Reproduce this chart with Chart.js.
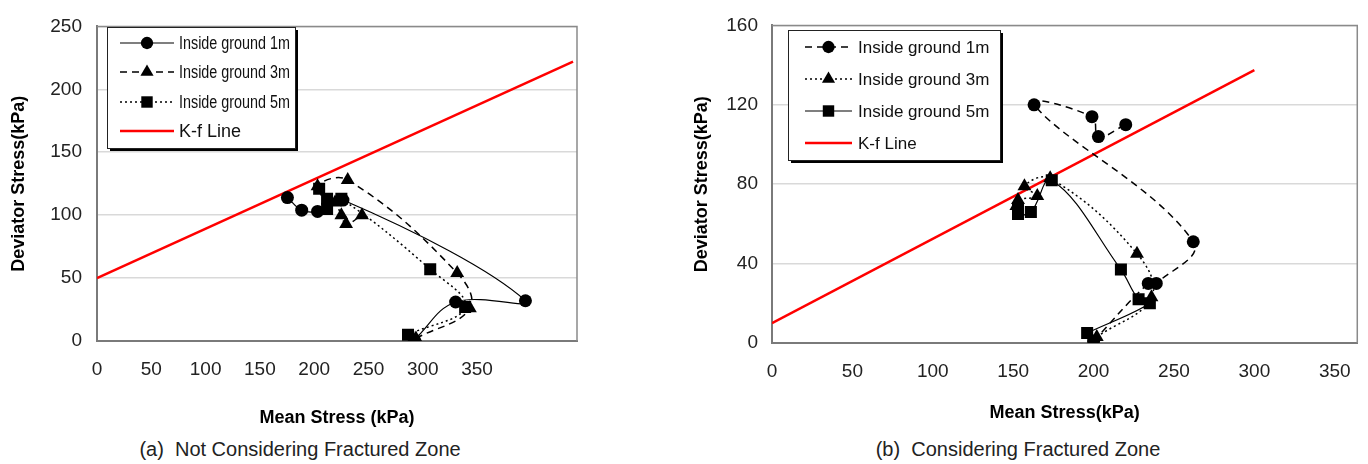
<!DOCTYPE html>
<html><head><meta charset="utf-8">
<script src="https://cdn.jsdelivr.net/npm/chart.js@4.4.1/dist/chart.umd.min.js"></script>
<style>
body{margin:0;background:#fff;width:1368px;height:464px;overflow:hidden;position:relative;font-family:"Liberation Sans",Arial,sans-serif}
#ca{position:absolute;left:0;top:0}
#cb{position:absolute;left:680px;top:0}
.cap{position:absolute;top:436px;font-size:20px;line-height:26px;color:#222;white-space:pre;transform:translateX(-50%)}
</style></head><body>
<canvas id="ca" width="600" height="430"></canvas>
<canvas id="cb" width="688" height="425"></canvas>
<div class="cap" style="left:300px">(a)  Not Considering Fractured Zone</div>
<div class="cap" style="left:1018px">(b)  Considering Fractured Zone</div>
<script>
// ---------- data ----------
const seriesLabels = ['Inside ground 1m', 'Inside ground 3m', 'Inside ground 5m', 'K-f Line'];

// (a) Not considering fractured zone
const meanA1 = [200, 226, 270, 155, 139, 129, 120];
const devA1  = [1, 31, 32, 112, 103, 104, 114];
const meanA3 = [201, 235, 227, 158, 139, 150, 154, 157, 167];
const devA3  = [2, 26, 54, 128, 123, 110, 100, 93, 100];
const meanA5 = [196, 232, 210, 154, 145, 140, 145];
const devA5  = [5, 27, 57, 113, 113, 121, 105];
const kfMeanA = [0, 300];
const kfDevA  = [50, 222];

// (b) Considering fractured zone
const meanB1 = [200, 234, 239, 262, 163, 199, 203, 220];
const devB1  = [1, 30, 30, 51, 120, 114, 104, 110];
const meanB3 = [202, 236, 227, 173, 157, 165, 153, 152];
const devB3  = [3, 23, 45, 83, 79, 74, 72, 69];
const meanB5 = [196, 235, 228, 217, 174, 161, 153, 153];
const devB5  = [5, 20, 22, 37, 82, 66, 65, 68];
const kfMeanB = [0, 300];
const kfDevB  = [10, 137.5];

// tick labels
const xTicks = [0, 50, 100, 150, 200, 250, 300, 350];
const yTicksA = [0, 50, 100, 150, 200, 250];
const yTicksB = [0, 40, 80, 120, 160];

// ---------- helpers ----------
const pts = (xs, ys) => xs.map((x, i) => ({x, y: ys[i]}));
const FONT = '"Liberation Sans", Arial, sans-serif';

function series(label, xs, ys, style, dash, radius) {
  return {
    label, data: pts(xs, ys), showLine: true, tension: 0.4,
    borderColor: '#000', borderWidth: dash.length ? 1.5 : 1.2, borderDash: dash,
    pointStyle: style, pointRadius: radius, pointHoverRadius: radius,
    pointBackgroundColor: '#000', pointBorderColor: '#000', pointBorderWidth: 0
  };
}
function kfLine(xs, ys) {
  return {label: seriesLabels[3], data: pts(xs, ys), showLine: true, tension: 0,
    borderColor: '#ff0000', borderWidth: 2.5, borderDash: [], pointRadius: 0, pointHoverRadius: 0};
}

const frame = {
  id: 'frame',
  beforeDatasetsDraw(chart) {
    const {ctx, chartArea: a} = chart;
    ctx.save();
    ctx.strokeStyle = '#8a8a8a'; ctx.lineWidth = 1.5;
    ctx.beginPath();
    ctx.moveTo(a.left, a.top); ctx.lineTo(a.right, a.top); ctx.lineTo(a.right, a.bottom);
    ctx.stroke();
    ctx.restore();
  }
};

const boxLegend = {
  id: 'boxLegend',
  afterDatasetsDraw(chart, args, o) {
    const ctx = chart.ctx;
    ctx.save();
    ctx.fillStyle = '#000';
    ctx.fillRect(o.x + 3, o.y + 3, o.w, o.h);
    ctx.fillStyle = '#fff';
    ctx.fillRect(o.x, o.y, o.w, o.h);
    ctx.strokeStyle = '#222'; ctx.lineWidth = 1;
    ctx.strokeRect(o.x + 0.5, o.y + 0.5, o.w, o.h);
    chart.data.datasets.forEach((ds, i) => {
      const y = o.rows[i];
      ctx.save();
      ctx.strokeStyle = ds.borderColor; ctx.lineWidth = ds.borderWidth;
      ctx.setLineDash(ds.borderDash || []);
      ctx.beginPath(); ctx.moveTo(o.x0, y); ctx.lineTo(o.x1, y); ctx.stroke();
      ctx.setLineDash([]);
      if (ds.pointRadius > 0) {
        ctx.fillStyle = '#000'; ctx.strokeStyle = '#000';
        Chart.helpers.drawPoint(ctx, {pointStyle: ds.pointStyle, radius: ds.pointRadius * 0.95, rotation: 0, borderWidth: 0}, (o.x0 + o.x1) / 2, y);
      }
      ctx.restore();
      ctx.fillStyle = '#111'; ctx.font = o.font; ctx.textBaseline = 'middle'; ctx.textAlign = 'left';
      ctx.fillText(ds.label, o.tx, y + 1, o.maxW);
    });
    ctx.restore();
  }
};

function yAxis(max, step, ticks, width, titlePad, tickPad) {
  return {
    type: 'linear', position: 'left', min: 0, max: max,
    afterFit(s) { s.width = width; },
    afterBuildTicks(s) { s.ticks = ticks.map(v => ({value: v})); },
    ticks: {stepSize: step, padding: tickPad, color: '#222', font: {family: FONT, size: 19}},
    grid: {color: '#d9d9d9', lineWidth: 1.5, drawTicks: false},
    border: {display: true, color: '#7a7a7a', width: 2},
    title: {display: true, text: 'Deviator Stress(kPa)', color: '#000',
      font: {family: FONT, size: 18, weight: 'bold'}, padding: {top: titlePad, bottom: 0}}
  };
}
function xLabelAxis(max, height, tickPad, title) {
  return {
    type: 'linear', position: 'bottom', min: 0, max: max,
    afterFit(s) { s.height = height; },
    afterBuildTicks(s) { s.ticks = xTicks.map(v => ({value: v})); },
    ticks: {stepSize: 50, padding: tickPad, color: '#222', font: {family: FONT, size: 19}, maxRotation: 0},
    grid: {display: false, drawTicks: false},
    border: {display: true, color: '#7a7a7a', width: 2},
    title: {display: true, text: title, color: '#000',
      font: {family: FONT, size: 18, weight: 'bold'}, padding: {top: 0, bottom: 0}}
  };
}

// ---------- chart (a) ----------
new Chart(document.getElementById('ca'), {
  type: 'scatter',
  data: {datasets: [
    series(seriesLabels[0], meanA1, devA1, 'circle', [], 6.5),
    series(seriesLabels[1], meanA3, devA3, 'triangle', [7, 5], 8),
    series(seriesLabels[2], meanA5, devA5, 'rect', [2, 3], 8.5),
    kfLine(kfMeanA, kfDevA)
  ]},
  options: {
    responsive: false, animation: false, devicePixelRatio: 1,
    layout: {padding: {top: 19, right: 23, bottom: 1, left: 0}},
    plugins: {
      legend: {display: false}, tooltip: {enabled: false},
      boxLegend: {x: 107, y: 27, w: 188, h: 121, rows: [43, 72, 102, 131], x0: 120, x1: 174, tx: 179, maxW: 111,
        font: '18px ' + FONT}
    },
    scales: {
      x: {type: 'linear', display: false, min: 0, max: 302.5},
      xl: xLabelAxis(442, 88, 17, 'Mean Stress (kPa)'),
      y: yAxis(250, 50, yTicksA, 97, 8, 15)
    }
  },
  plugins: [frame, boxLegend]
});

// ---------- chart (b) ----------
new Chart(document.getElementById('cb'), {
  type: 'scatter',
  data: {datasets: [
    series(seriesLabels[0], meanB1, devB1, 'circle', [7, 5], 6.5),
    series(seriesLabels[1], meanB3, devB3, 'triangle', [2, 3], 8),
    series(seriesLabels[2], meanB5, devB5, 'rect', [], 8.5),
    kfLine(kfMeanB, kfDevB)
  ]},
  options: {
    responsive: false, animation: false, devicePixelRatio: 1,
    layout: {padding: {top: 18, right: 10, bottom: 1, left: 0}},
    plugins: {
      legend: {display: false}, tooltip: {enabled: false},
      boxLegend: {x: 108, y: 30, w: 212, h: 130, rows: [47, 79, 111, 143], x0: 125, x1: 172, tx: 178, maxW: 134,
        font: '17px ' + FONT}
    },
    scales: {
      x: xLabelAxis(364, 81, 17, 'Mean Stress(kPa)'),
      y: yAxis(160, 40, yTicksB, 92, 11, 14)
    }
  },
  plugins: [frame, boxLegend]
});
</script>
</body></html>
